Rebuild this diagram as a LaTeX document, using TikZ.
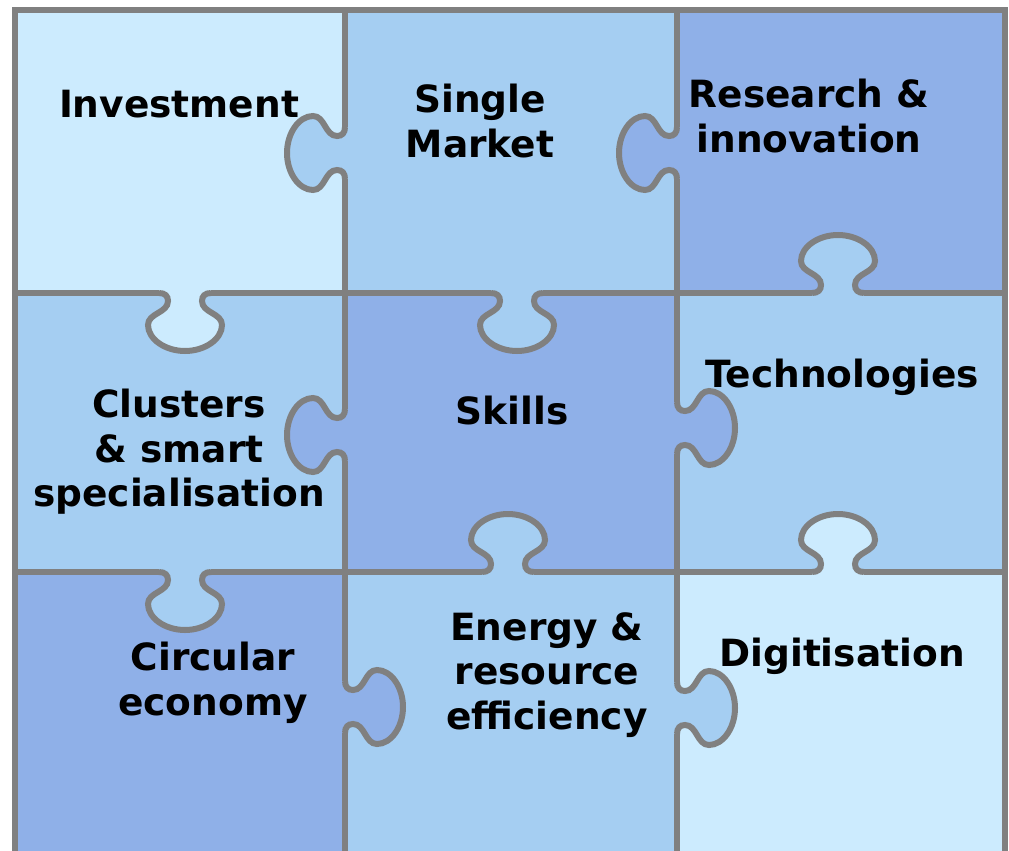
\documentclass[tikz,border=0pt]{standalone}
\usepackage{fontspec}
\setsansfont{DejaVu Sans}

\definecolor{pzlight}{HTML}{CCEBFE}
\definecolor{pzmid}{HTML}{A5CEF2}
\definecolor{pzdark}{HTML}{8FB0E8}
\definecolor{pzedge}{HTML}{808080}

\tikzset{
  seam/.style = {draw = pzedge, line width = 6pt},
  word/.style = {anchor = north, inner sep = 0pt, align = center,
                 font = \sffamily\bfseries\fontsize{37.5}{44.5}\selectfont,
                 execute at begin node = \strut},
  knob/.pic = {
    \fill [#1] (-26,0) .. controls (-20,0) and (-17,3) .. (-17,8)
      .. controls (-17,20) and (-37,20) .. (-37,32)
      .. controls (-37,46) and (-20,58) .. (0,58)
      .. controls (20,58) and (37,46) .. (37,32)
      .. controls (37,20) and (17,20) .. (17,8)
      .. controls (17,3) and (20,0) .. (26,0) -- cycle;
    \draw [seam] (-26,0) .. controls (-20,0) and (-17,3) .. (-17,8)
      .. controls (-17,20) and (-37,20) .. (-37,32)
      .. controls (-37,46) and (-20,58) .. (0,58)
      .. controls (20,58) and (37,46) .. (37,32)
      .. controls (37,20) and (17,20) .. (17,8)
      .. controls (17,3) and (20,0) .. (26,0);
  }
}

\begin{document}
\begin{tikzpicture}[x = 1pt, y = -1pt]
    \useasboundingbox (0,0) rectangle (1009,851);
    \fill [white] (0,0) rectangle (1009,851);
    \clip (0,0) rectangle (1009,851);

    % the nine pieces
    \fill [pzlight] ( 15, 10) rectangle ( 345, 293);
    \fill [pzmid]   (345, 10) rectangle ( 677, 293);
    \fill [pzdark]  (677, 10) rectangle (1005, 293);
    \fill [pzmid]   ( 15,293) rectangle ( 345, 572);
    \fill [pzdark]  (345,293) rectangle ( 677, 572);
    \fill [pzmid]   (677,293) rectangle (1005, 572);
    \fill [pzdark]  ( 15,572) rectangle ( 345, 860);
    \fill [pzmid]   (345,572) rectangle ( 677, 860);
    \fill [pzlight] (677,572) rectangle (1005, 860);

    % tabs
    \pic [rotate = -90] at (345,153) {knob = pzmid};
    \pic [rotate = -90] at (345,435) {knob = pzdark};
    \pic [rotate =  90] at (345,707) {knob = pzdark};
    \pic [rotate = -90] at (677,153) {knob = pzdark};
    \pic [rotate =  90] at (677,428) {knob = pzdark};
    \pic [rotate =  90] at (677,708) {knob = pzmid};
    \pic                at (185,293) {knob = pzlight};
    \pic                at (517,293) {knob = pzmid};
    \pic [rotate = 180] at (838,293) {knob = pzmid};
    \pic                at (185,572) {knob = pzmid};
    \pic [rotate = 180] at (508,572) {knob = pzmid};
    \pic [rotate = 180] at (838,572) {knob = pzlight};

    % seams
    \draw [seam] (345,10) -- (345,127) (345,179) -- (345,409)
                 (345,461) -- (345,681) (345,733) -- (345,860);
    \draw [seam] (677,10) -- (677,127) (677,179) -- (677,402)
                 (677,454) -- (677,682) (677,734) -- (677,860);
    \draw [seam] (15,293) -- (159,293) (211,293) -- (491,293)
                 (543,293) -- (812,293) (864,293) -- (1005,293);
    \draw [seam] (15,572) -- (159,572) (211,572) -- (482,572)
                 (534,572) -- (812,572) (864,572) -- (1005,572);
    \draw [seam] (15,860) -- (15,10) -- (1005,10) -- (1005,860);

    \node (invest)   at (179, 86) [word] {Investment};
    \node (single)   at (480, 84) [word] {Single\\Market};
    \node (research) at (809, 79) [word] {Research \&\\innovation};
    \node (clusters) at (179,389) [word] {Clusters\\\& smart\\specialisation};
    \node (skills)   at (512,393) [word] {Skills};
    \node (tech)     at (842,356) [word] {Technologies};
    \node (circular) at (213,642) [word] {Circular\\economy};
    \node (energy)   at (547,612) [word] {Energy \&\\resource\\efficiency};
    \node (digit)    at (842,635) [word] {Digitisation};
  \end{tikzpicture}
\end{document}
